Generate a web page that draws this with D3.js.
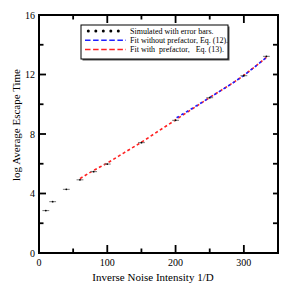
<!DOCTYPE html>
<html>
<head>
<meta charset="utf-8">
<script src="https://cdn.jsdelivr.net/npm/d3@7"></script>
<style>
  body { margin: 0; background: #fff; }
  text { font-family: "Liberation Serif", "Times New Roman", serif; fill: #000; }
</style>
</head>
<body>
<script>
// simulated points
let invD = [10, 20, 40, 60, 80, 100, 150, 200, 250, 300, 333];
let logT = [2.85, 3.45, 4.28, 4.92, 5.47, 5.98, 7.42, 8.92, 10.44, 11.92, 13.22];
let errHalf = [5, 5, 5, 5, 5, 5, 5, 5, 5, 5, 5];

// fit with prefactor, Eq. (13)
let fitPreX = [60, 80, 100, 125, 150, 175, 200, 250, 300, 333];
let fitPreY = [5.0, 5.55, 6.05, 6.75, 7.45, 8.2, 8.95, 10.45, 11.95, 13.15];

// fit without prefactor, Eq. (12)
let fitNoX = [198, 250, 300, 333];
let fitNoY = [9.0, 10.45, 11.95, 13.15];

let xTicks = [0, 100, 200, 300];
let xMinor = [50, 150, 250];
let yTicks = [0, 4, 8, 12, 16];
let yMinor = [2, 6, 10, 14];

let legendLabels = ["Simulated with error bars.", "Fit without prefactor, Eq. (12).", "Fit with  prefactor,   Eq. (13)."];

let margin = { top: 15, left: 39, bottom: 37, right: 12 };
let W = 290, H = 290;
let width = W - margin.left - margin.right;
let height = H - margin.top - margin.bottom;

let svg = d3.select("body").append("svg").attr("width", W).attr("height", H);
let g = svg.append("g").attr("transform", "translate(" + margin.left + "," + margin.top + ")");

let x = d3.scaleLinear().domain([0, 350]).range([0, width]);
let y = d3.scaleLinear().domain([0, 16]).range([height, 0]);

// fits
let fitLine = d3.line().x(d => x(d[0])).y(d => y(d[1])).curve(d3.curveMonotoneX);
let preData = fitPreX.map((v, i) => [v, fitPreY[i]]);
let noData = fitNoX.map((v, i) => [v, fitNoY[i]]);

g.append("path").datum(preData).attr("d", fitLine)
  .attr("fill", "none").attr("stroke", "#ff2020").attr("stroke-width", 1.6)
  .attr("stroke-dasharray", "3,2.5");
g.append("path").datum(noData).attr("d", fitLine)
  .attr("fill", "none").attr("stroke", "#2020ff").attr("stroke-width", 1.6)
  .attr("stroke-dasharray", "2.7,2.8").attr("stroke-dashoffset", 2.7);

// error bars + points
let pts = g.selectAll(".pt").data(invD.map((v, i) => ({ x: v, y: logT[i], e: errHalf[i] })))
  .enter().append("g").attr("class", "pt");
pts.append("line")
  .attr("x1", d => x(d.x - d.e)).attr("x2", d => x(d.x + d.e))
  .attr("y1", d => y(d.y)).attr("y2", d => y(d.y))
  .attr("stroke", "#777").attr("stroke-width", 1);
pts.append("circle").attr("cx", d => x(d.x)).attr("cy", d => y(d.y)).attr("r", 0.9).attr("fill", "#000");

// frame
g.append("rect").attr("width", width).attr("height", height)
  .attr("fill", "none").attr("stroke", "#000").attr("stroke-width", 2);

// ticks (inward on all sides)
function tickX(vals, len) {
  vals.forEach(v => {
    g.append("line").attr("x1", x(v)).attr("x2", x(v)).attr("y1", height).attr("y2", height - len)
      .attr("stroke", "#000").attr("stroke-width", 1.8);
    g.append("line").attr("x1", x(v)).attr("x2", x(v)).attr("y1", 0).attr("y2", len)
      .attr("stroke", "#000").attr("stroke-width", 1.8);
  });
}
function tickY(vals, len) {
  vals.forEach(v => {
    g.append("line").attr("x1", 0).attr("x2", len).attr("y1", y(v)).attr("y2", y(v))
      .attr("stroke", "#000").attr("stroke-width", 1.8);
    g.append("line").attr("x1", width).attr("x2", width - 5).attr("y1", y(v)).attr("y2", y(v))
      .attr("stroke", "#000").attr("stroke-width", 1.8);
  });
}
tickX(xTicks.slice(1), 8);
tickX(xMinor, 4.5);
tickY(yTicks.slice(1, -1).concat([16]), 7);
tickY(yMinor, 4.5);

// tick labels
g.selectAll(".xl").data(xTicks).enter().append("text")
  .attr("x", d => x(d)).attr("y", height + 13).attr("text-anchor", "middle")
  .attr("font-size", 10).text(d => d);
g.selectAll(".yl").data(yTicks).enter().append("text")
  .attr("x", -4).attr("y", d => y(d) + 3.5).attr("text-anchor", "end")
  .attr("font-size", 10).text(d => d);

// axis titles
svg.append("text").attr("x", 153).attr("y", 281).attr("text-anchor", "middle")
  .attr("font-size", 11).text("Inverse Noise Intensity 1/D");
svg.append("text").attr("transform", "translate(20,125) rotate(-90)").attr("text-anchor", "middle")
  .attr("font-size", 11).text("log Average Escape Time");

// legend
let lg = svg.append("g").attr("transform", "translate(81,25)");
lg.append("rect").attr("x", 1.5).attr("y", 1.5).attr("width", 147).attr("height", 34).attr("fill", "#555");
lg.append("rect").attr("width", 147).attr("height", 34).attr("fill", "#fff").attr("stroke", "#000").attr("stroke-width", 1);

let rowY = [6, 15.3, 24.6];
[0, 1, 2, 3, 4].forEach(k => {
  lg.append("circle").attr("cx", 7.3 + k * 7.5).attr("cy", rowY[0]).attr("r", 1.5).attr("fill", "#000");
});
lg.append("line").attr("x1", 4).attr("x2", 45).attr("y1", rowY[1]).attr("y2", rowY[1])
  .attr("stroke", "#2020ff").attr("stroke-width", 1.5).attr("stroke-dasharray", "5.5,2.6");
lg.append("line").attr("x1", 4).attr("x2", 45).attr("y1", rowY[2]).attr("y2", rowY[2])
  .attr("stroke", "#ff2020").attr("stroke-width", 1.5).attr("stroke-dasharray", "5.5,2.6");
legendLabels.forEach((t, i) => {
  lg.append("text").attr("x", 49).attr("y", rowY[i] + 2.6).attr("font-size", 8)
    .style("white-space", "pre").text(t);
});
</script>
</body>
</html>
